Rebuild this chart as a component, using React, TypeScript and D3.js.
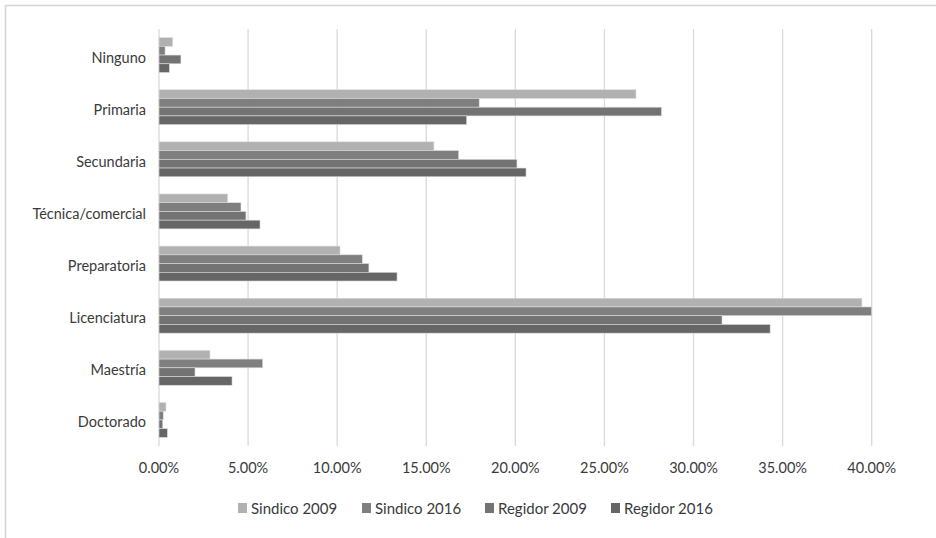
import React from "react";
import * as d3 from "d3";

const categories = [
  "Ninguno",
  "Primaria",
  "Secundaria",
  "Técnica/comercial",
  "Preparatoria",
  "Licenciatura",
  "Maestría",
  "Doctorado",
];

const seriesNames = ["Sindico 2009", "Sindico 2016", "Regidor 2009", "Regidor 2016"];

// Percentages per education level, in category order
const sindico2009 = [0.77, 26.77, 15.43, 3.85, 10.16, 39.45, 2.86, 0.39];
const sindico2016 = [0.34, 17.97, 16.82, 4.6, 11.41, 40.0, 5.82, 0.24];
const regidor2009 = [1.23, 28.2, 20.09, 4.88, 11.78, 31.6, 2.02, 0.21];
const regidor2016 = [0.58, 17.27, 20.6, 5.67, 13.36, 34.3, 4.1, 0.47];

const xTicks = [0, 5, 10, 15, 20, 25, 30, 35, 40];

const seriesValues = [sindico2009, sindico2016, regidor2009, regidor2016];
const seriesColors = ["#b1b1b1", "#7f7f7f", "#737373", "#666666"];

const W = 936;
const H = 538;
const plot = { left: 159, right: 871.7, top: 29, bottom: 446 };
const FONT = "Lato, 'Open Sans', sans-serif";
const TEXT = "#3a3a3a";

export default function App() {
  const x = d3.scaleLinear().domain([0, 40]).range([plot.left, plot.right]);
  const y = d3
    .scaleBand<string>()
    .domain(categories)
    .range([plot.top, plot.bottom])
    .paddingInner(0.33)
    .paddingOuter(0.165);
  const inner = d3
    .scaleBand<string>()
    .domain(seriesNames)
    .range([0, y.bandwidth()]);

  const legendX = [238, 362, 485, 611];

  return (
    <svg
      width={W}
      height={H}
      style={{ position: "absolute", left: 0, top: 0, background: "#fff" }}
    >
      {/* frame edges */}
      <line x1={5.5} x2={W} y1={5.5} y2={5.5} stroke="#d4d4d4" strokeWidth={1.5} />
      <line x1={5.5} x2={5.5} y1={5.5} y2={H} stroke="#d4d4d4" strokeWidth={1.5} />

      {/* vertical gridlines */}
      {xTicks.map((t) => (
        <line
          key={t}
          x1={x(t)}
          x2={x(t)}
          y1={plot.top}
          y2={plot.bottom}
          stroke="#d9d9d9"
          strokeWidth={1.3}
        />
      ))}

      {/* bars */}
      {categories.map((c, i) => (
        <g key={c} transform={`translate(0,${y(c)})`}>
          {seriesNames.map((s, j) => (
            <rect
              key={s}
              x={x(0)}
              y={inner(s)}
              width={x(seriesValues[j][i]) - x(0)}
              height={inner.bandwidth()}
              fill={seriesColors[j]}
              stroke="#dcdcdc"
              strokeWidth={0.6}
            />
          ))}
        </g>
      ))}

      {/* category labels */}
      {categories.map((c) => (
        <text
          key={c}
          x={plot.left - 13}
          y={(y(c) as number) + y.bandwidth() / 2 + 2}
          textAnchor="end"
          dominantBaseline="central"
          fontFamily={FONT}
          fontSize={14.5}
          fill={TEXT}
        >
          {c}
        </text>
      ))}

      {/* x tick labels */}
      {xTicks.map((t) => (
        <text
          key={t}
          x={x(t)}
          y={467}
          textAnchor="middle"
          dominantBaseline="central"
          fontFamily={FONT}
          fontSize={14.5}
          fill={TEXT}
        >
          {d3.format(".2f")(t) + "%"}
        </text>
      ))}

      {/* legend */}
      {seriesNames.map((s, j) => (
        <g key={s} transform={`translate(${legendX[j]},508)`}>
          <rect x={0} y={-5} width={9} height={10} fill={seriesColors[j]} />
          <text
            x={13}
            y={0}
            dominantBaseline="central"
            fontFamily={FONT}
            fontSize={15}
            fill={TEXT}
          >
            {s}
          </text>
        </g>
      ))}
    </svg>
  );
}
